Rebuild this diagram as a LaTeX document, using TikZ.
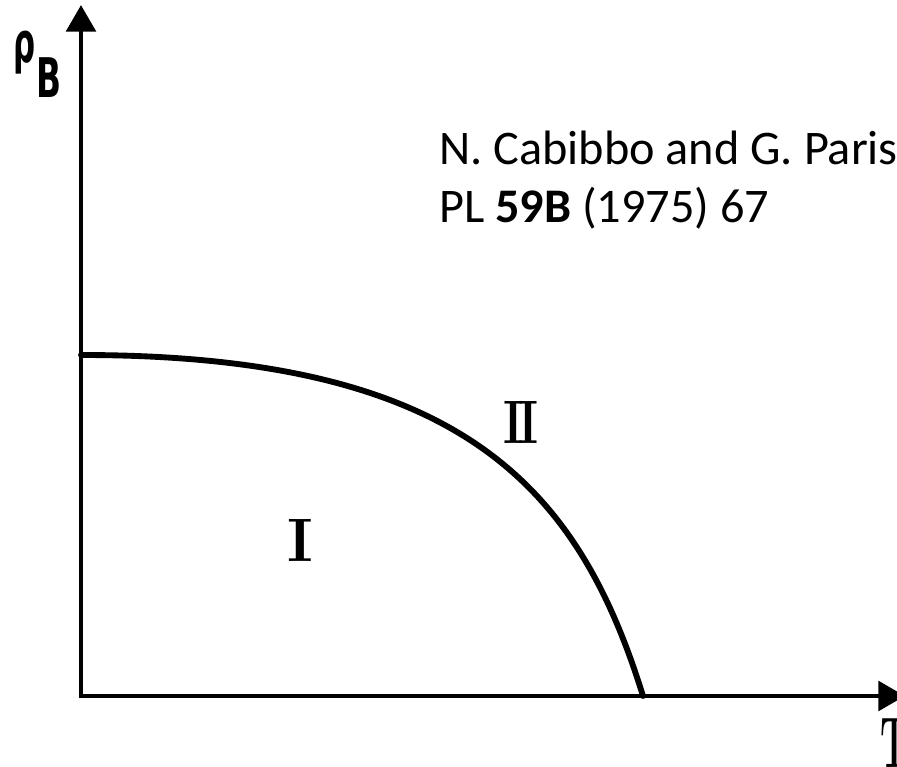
\documentclass[tikz,border=0pt]{standalone}
\usepackage{fontspec}
\newfontfamily\carlitofont{Carlito}
\newfontfamily\dejavufont{DejaVu Sans}
\usetikzlibrary{arrows.meta}
\begin{document}
\begin{tikzpicture}[x=0.75pt,y=-0.75pt,
  axis/.style={line width=3.6pt,{Triangle[length=20pt,width=22pt]}-{Triangle[length=20pt,width=22pt]}},
  phase/.style={line width=4.4pt,line cap=round},
  ref/.style={inner sep=0pt,anchor=base west,font=\carlitofont\fontsize{36.2}{42}\selectfont},
  roman/.style={inner sep=0pt,font=\bfseries\fontsize{46}{50}\selectfont}]
\useasboundingbox (0,0) rectangle (897,767);
\coordinate (ytip) at (81,5);
\coordinate (O) at (81,696);
\coordinate (xtip) at (905,696);
\coordinate (cstart) at (81,355);
\coordinate (cend) at (643,696);
\draw[axis] (ytip) -- (O) -- (xtip);
\draw[phase] (cstart) .. controls (461,355) and (578,486) .. (cend);
\node[inner sep=0pt] (rho) at (25,53) {\scalebox{0.55}[1]{\dejavufont\bfseries\fontsize{42}{42}\selectfont ρ}};
\node[inner sep=0pt] (B) at (49,78) {\scalebox{0.6}[1]{\dejavufont\bfseries\fontsize{41}{41}\selectfont B}};
\node[inner sep=0pt,anchor=base,font=\bfseries\fontsize{54}{54}\selectfont] (T) at (895,767) {\scalebox{0.5}[1]{T}};
\node[roman] (one) at (300,540) {I};
\node[roman] (two) at (521,422) {\scalebox{0.78}[1]{I\kern-4pt I}};
\node[ref] (l1) at (439,165) {N. Cabibbo and G. Parisi};
\node[ref] (l2) at (439,222) {PL \textbf{59B} (1975) 67};
\end{tikzpicture}
\end{document}
